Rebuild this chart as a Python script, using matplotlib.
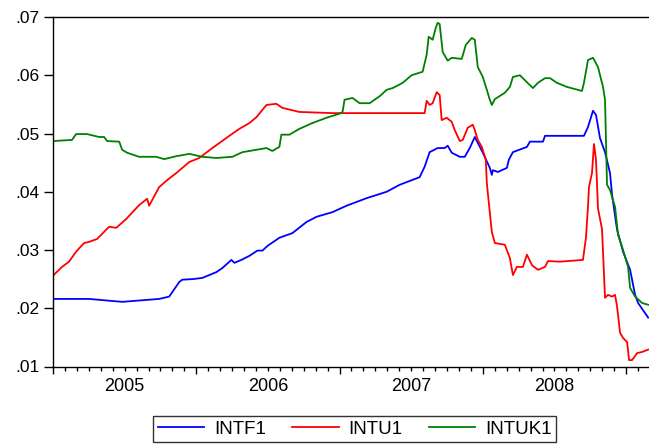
import matplotlib
matplotlib.use('Agg')
import matplotlib.pyplot as plt
import matplotlib.transforms as mtransforms
import numpy as np

# fractional years / rates
intf1_t = [2005.000, 2005.252, 2005.483, 2005.741, 2005.811, 2005.881, 2005.902, 2005.972,
           2006.042, 2006.140, 2006.182, 2006.245, 2006.266, 2006.315, 2006.371, 2006.427,
           2006.462, 2006.497, 2006.580, 2006.671, 2006.769, 2006.839, 2006.951, 2007.049,
           2007.189, 2007.329, 2007.420, 2007.559, 2007.594, 2007.629, 2007.685, 2007.734,
           2007.755, 2007.783, 2007.839, 2007.874, 2007.909, 2007.944, 2007.965, 2008.000,
           2008.049, 2008.063, 2008.070, 2008.105, 2008.168, 2008.182, 2008.210, 2008.308,
           2008.329, 2008.420, 2008.434, 2008.706, 2008.734, 2008.769, 2008.790, 2008.818,
           2008.853, 2008.888, 2008.902, 2008.937, 2008.979, 2009.028, 2009.063, 2009.084,
           2009.154]
intf1 = [0.0216, 0.0216, 0.0211, 0.0216, 0.0220, 0.0245, 0.0249, 0.0250,
         0.0252, 0.0262, 0.0269, 0.0283, 0.0278, 0.0283, 0.0290, 0.0299,
         0.0299, 0.0307, 0.0321, 0.0329, 0.0348, 0.0357, 0.0365, 0.0376,
         0.0389, 0.0400, 0.0412, 0.0425, 0.0443, 0.0468, 0.0475, 0.0475,
         0.0479, 0.0467, 0.0460, 0.0460, 0.0475, 0.0494, 0.0484, 0.0467,
         0.0441, 0.0429, 0.0437, 0.0434, 0.0441, 0.0455, 0.0468, 0.0477,
         0.0486, 0.0486, 0.0496, 0.0496, 0.0511, 0.0539, 0.0532, 0.0492,
         0.0468, 0.0432, 0.0395, 0.0335, 0.0297, 0.0266, 0.0223, 0.0209,
         0.0184]

intu1_t = [2005.000, 2005.063, 2005.112, 2005.161, 2005.217, 2005.252, 2005.308, 2005.392,
           2005.441, 2005.510, 2005.601, 2005.657, 2005.671, 2005.741, 2005.797, 2005.860,
           2005.951, 2006.021, 2006.112, 2006.231, 2006.301, 2006.371, 2006.420, 2006.490,
           2006.559, 2006.601, 2006.720, 2006.951, 2007.594, 2007.608, 2007.629, 2007.650,
           2007.678, 2007.699, 2007.713, 2007.748, 2007.783, 2007.804, 2007.839, 2007.860,
           2007.895, 2007.930, 2007.944, 2007.965, 2007.993, 2008.021, 2008.028, 2008.035,
           2008.063, 2008.084, 2008.154, 2008.189, 2008.210, 2008.238, 2008.280, 2008.308,
           2008.343, 2008.385, 2008.434, 2008.455, 2008.538, 2008.699, 2008.720, 2008.734,
           2008.741, 2008.762, 2008.776, 2008.790, 2008.804, 2008.832, 2008.853, 2008.874,
           2008.902, 2008.923, 2008.937, 2008.958, 2008.979, 2009.007, 2009.021, 2009.042,
           2009.077, 2009.112, 2009.154]
intu1 = [0.0256, 0.0271, 0.0280, 0.0297, 0.0312, 0.0314, 0.0319, 0.0340,
         0.0338, 0.0353, 0.0377, 0.0388, 0.0376, 0.0408, 0.0420, 0.0432,
         0.0451, 0.0458, 0.0475, 0.0496, 0.0508, 0.0518, 0.0528, 0.0549,
         0.0551, 0.0544, 0.0537, 0.0535, 0.0535, 0.0556, 0.0549, 0.0552,
         0.0571, 0.0566, 0.0523, 0.0527, 0.0520, 0.0506, 0.0487, 0.0489,
         0.0510, 0.0515, 0.0506, 0.0489, 0.0477, 0.0455, 0.0415, 0.0398,
         0.0331, 0.0312, 0.0309, 0.0286, 0.0257, 0.0271, 0.0271, 0.0292,
         0.0274, 0.0266, 0.0271, 0.0281, 0.0280, 0.0283, 0.0321, 0.0374,
         0.0408, 0.0432, 0.0482, 0.0455, 0.0371, 0.0336, 0.0218, 0.0223,
         0.0220, 0.0223, 0.0203, 0.0158, 0.0149, 0.0142, 0.0111, 0.0111,
         0.0123, 0.0125, 0.0129]

intuk1_t = [2005.000, 2005.133, 2005.161, 2005.238, 2005.322, 2005.357, 2005.378, 2005.462,
            2005.483, 2005.517, 2005.601, 2005.720, 2005.776, 2005.860, 2005.951, 2006.042,
            2006.140, 2006.252, 2006.322, 2006.371, 2006.490, 2006.531, 2006.580, 2006.594,
            2006.650, 2006.720, 2006.811, 2006.909, 2007.000, 2007.021, 2007.035, 2007.091,
            2007.140, 2007.210, 2007.280, 2007.329, 2007.371, 2007.441, 2007.503, 2007.580,
            2007.608, 2007.622, 2007.650, 2007.671, 2007.685, 2007.699, 2007.720, 2007.755,
            2007.783, 2007.853, 2007.881, 2007.923, 2007.944, 2007.965, 2008.000, 2008.028,
            2008.049, 2008.063, 2008.084, 2008.154, 2008.189, 2008.210, 2008.259, 2008.308,
            2008.350, 2008.385, 2008.434, 2008.469, 2008.517, 2008.587, 2008.692, 2008.706,
            2008.734, 2008.769, 2008.804, 2008.839, 2008.853, 2008.867, 2008.888, 2008.923,
            2008.944, 2008.979, 2009.014, 2009.028, 2009.063, 2009.112, 2009.154]
intuk1 = [0.0487, 0.0489, 0.0499, 0.0499, 0.0494, 0.0494, 0.0487, 0.0486,
          0.0472, 0.0467, 0.0460, 0.0460, 0.0456, 0.0461, 0.0465, 0.0460,
          0.0458, 0.0460, 0.0468, 0.0470, 0.0475, 0.0470, 0.0477, 0.0498,
          0.0498, 0.0508, 0.0518, 0.0527, 0.0534, 0.0537, 0.0558, 0.0561,
          0.0552, 0.0552, 0.0564, 0.0575, 0.0578, 0.0587, 0.0600, 0.0606,
          0.0635, 0.0666, 0.0661, 0.0681, 0.0690, 0.0688, 0.0640, 0.0625,
          0.0630, 0.0628, 0.0652, 0.0664, 0.0661, 0.0614, 0.0597, 0.0575,
          0.0558, 0.0549, 0.0559, 0.0570, 0.0580, 0.0597, 0.0600, 0.0588,
          0.0578, 0.0587, 0.0595, 0.0595, 0.0587, 0.0580, 0.0573, 0.0587,
          0.0626, 0.0630, 0.0614, 0.0580, 0.0558, 0.0412, 0.0403, 0.0374,
          0.0326, 0.0300, 0.0271, 0.0235, 0.0220, 0.0209, 0.0206]

years = [2005, 2006, 2007, 2008]
yticks = [0.01, 0.02, 0.03, 0.04, 0.05, 0.06, 0.07]

plt.rcParams['font.family'] = ['Liberation Sans', 'DejaVu Sans']

fig = plt.figure(figsize=(6.49, 4.47), dpi=100)
ax = fig.add_axes([53 / 649, 1 - 366.5 / 447, 1 - 53 / 649, 349.5 / 447])

ax.plot(intf1_t, intf1, color='#0000ff', lw=1.3, label='INTF1')
ax.plot(intu1_t, intu1, color='#ff0000', lw=1.3, label='INTU1')
ax.plot(intuk1_t, intuk1, color='#008000', lw=1.3, label='INTUK1')

ax.set_xlim(2005.0, 2009.16)
ax.set_ylim(0.01, 0.07)
ax.spines['right'].set_visible(False)
for s in ['left', 'bottom', 'top']:
    ax.spines[s].set_linewidth(1.0)

ax.set_yticks(yticks)
ax.set_yticklabels(['{:.2f}'.format(v)[1:] for v in yticks])
ax.tick_params(axis='y', direction='out', length=6.5, width=1.0, pad=3, labelsize=12.5)

ax.set_xticks(years + [2009])
ax.set_xticklabels([])
months = [y + m / 12.0 for y in years + [2009] for m in range(1, 12)]
ax.set_xticks([m for m in months if m < 2009.16], minor=True)
ax.tick_params(axis='x', which='major', direction='out', length=5, width=1.0)
ax.tick_params(axis='x', which='minor', direction='out', length=3, width=1.0)

trans = mtransforms.blended_transform_factory(ax.transData, ax.transAxes)
for y in years:
    ax.text(y + 0.5, -0.056, str(y), transform=trans, ha='center', va='center',
            fontsize=13)

leg = fig.legend(loc='center', bbox_to_anchor=(354.5 / 649, 18 / 447), ncol=3,
                 fontsize=13.5, frameon=True, fancybox=False, handlelength=2.5,
                 handletextpad=0.5, columnspacing=1.4, borderpad=0.25,
                 borderaxespad=0)
leg.get_frame().set_edgecolor('black')
leg.get_frame().set_linewidth(1.0)

fig.savefig('out.png', dpi=100)
